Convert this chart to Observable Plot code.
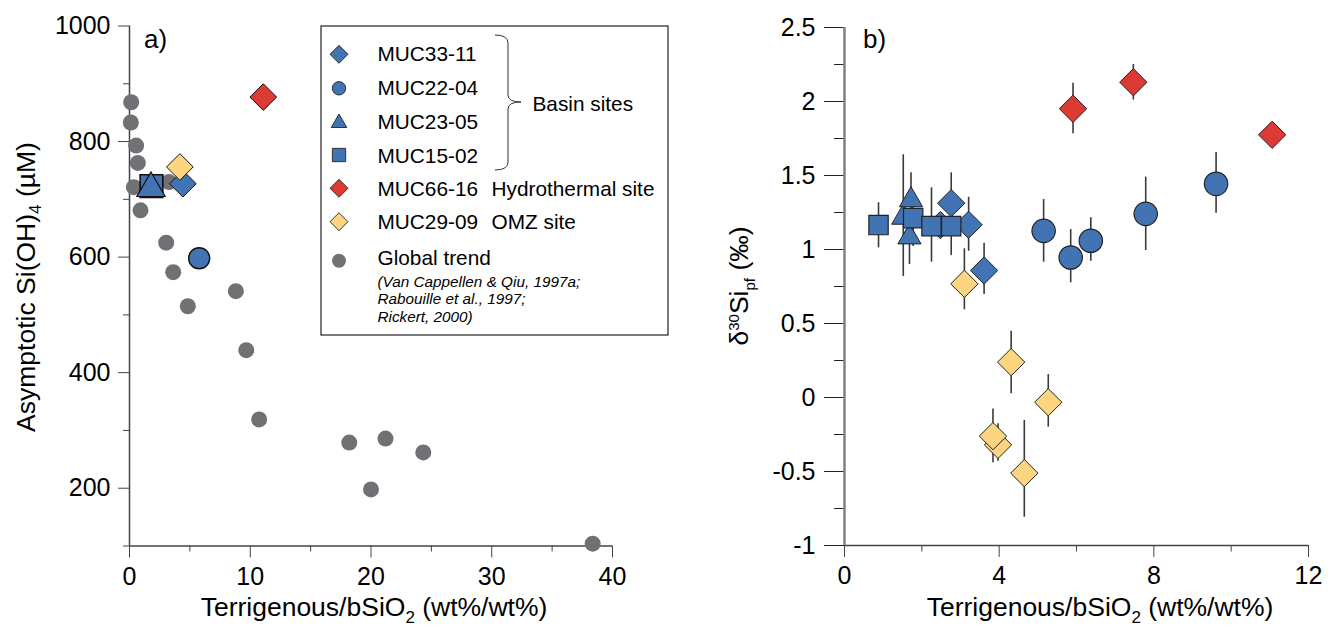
<!DOCTYPE html>
<html>
<head>
<meta charset="utf-8">
<script src="https://cdn.jsdelivr.net/npm/d3@7"></script>
<script src="https://cdn.jsdelivr.net/npm/@observablehq/plot@0.6"></script>
<style>
  body { margin: 0; background: #fff; font-family: "Liberation Sans", Arial, sans-serif; }
  #wrap { position: relative; width: 1340px; height: 630px; overflow: hidden; }
  #pa, #pb { position: absolute; top: 0; }
  #pa { left: 0; }
  #pb { left: 670px; }
  svg { overflow: visible; }
</style>
</head>
<body>
<div id="wrap"><div id="pa"></div><div id="pb"></div></div>
<script>
// ---------------- DATA ----------------
// Panel a: global trend (grey circles)
const globalX = [0.14, 0.11, 0.55, 0.69, 0.36, 0.91, 3.26, 3.04, 3.62, 4.83, 8.81, 9.67, 10.74, 18.2, 21.2, 24.33, 20.0, 38.36];
const globalY = [868, 833, 793, 763, 721, 681, 730, 625, 574, 515, 541, 439, 319, 279, 286, 262, 198, 104];

// Panel a: site values
const siteNames = ["MUC33-11", "MUC22-04", "MUC23-05", "MUC15-02", "MUC66-16", "MUC29-09"];
const siteAX = [4.42, 5.77, 1.78, 1.82, 11.08, 4.17];
const siteAY = [727, 598, 719, 723, 877, 756];

// Panel b: per site  x = Terrigenous/bSiO2, y = d30Si, lo/hi = error bar ends
const b33X  = [2.48, 2.76, 3.21, 3.61];
const b33Y  = [1.165, 1.313, 1.167, 0.858];
const b33Lo = [1.08, 1.10, 0.988, 0.696];
const b33Hi = [1.25, 1.518, 1.353, 1.043];

const b22X  = [5.15, 5.85, 6.37, 7.79, 9.61];
const b22Y  = [1.126, 0.946, 1.059, 1.241, 1.444];
const b22Lo = [0.914, 0.775, 0.921, 0.993, 1.245];
const b22Hi = [1.338, 1.135, 1.214, 1.489, 1.655];

const b23X  = [1.52, 1.72, 1.68];
const b23Y  = [1.216, 1.334, 1.083];
const b23Lo = [0.818, 1.15, 0.899];
const b23Hi = [1.64, 1.518, 1.27];

const b15X  = [0.88, 1.776, 2.25, 2.76];
const b15Y  = [1.165, 1.212, 1.158, 1.158];
const b15Lo = [1.011, 1.02, 0.914, 0.959];
const b15Hi = [1.316, 1.30, 1.417, 1.36];

const b66X  = [5.91, 7.47, 11.06];
const b66Y  = [1.951, 2.13, 1.775];
const b66Lo = [1.782, 2.01, 1.745];
const b66Hi = [2.124, 2.25, 1.805];

const b29X  = [3.10, 4.31, 5.27, 3.97, 3.84, 4.65];
const b29Y  = [0.768, 0.239, -0.032, -0.32, -0.261, -0.511];
const b29Lo = [0.593, 0.025, -0.2, -0.43, -0.441, -0.809];
const b29Hi = [1.005, 0.448, 0.155, -0.178, -0.077, -0.155];

// Tick values
const aXMajor = [0, 10, 20, 30, 40];
const aXMinor = [5, 15, 25, 35];
const aYMajor = [200, 400, 600, 800, 1000];
const aYMinor = [100, 300, 500, 700, 900];
const bXMajor = [0, 4, 8, 12];
const bXMinor = [2, 6, 10];
const bYMajor = [-1, -0.5, 0, 0.5, 1, 1.5, 2, 2.5];
const bYMinor = [-0.75, -0.25, 0.25, 0.75, 1.25, 1.75, 2.25];

// ---------------- STYLE ----------------
const BLUE = "#4274b4", RED = "#dc3b33", YELLOW = "#fdd580", GREY = "#6f7174";
const FONT = "'Liberation Sans', Arial, sans-serif";

const pts = (xs, ys) => xs.map((x, i) => ({x, y: ys[i]}));
const ptsErr = (xs, ys, lo, hi) => xs.map((x, i) => ({x, y: ys[i], lo: lo[i], hi: hi[i]}));
const siteA = siteNames.map((n, i) => ({name: n, x: siteAX[i], y: siteAY[i]}));
const pick = n => siteA.filter(d => d.name === n);

// ---------------- PANEL A ----------------
const plotA = Plot.plot({
  width: 670, height: 630,
  marginLeft: 129, marginRight: 58, marginTop: 25.5, marginBottom: 84.5,
  style: {fontFamily: FONT, background: "transparent", color: "#000"},
  x: {domain: [0, 40]},
  y: {domain: [100, 1000]},
  marks: [
    Plot.ruleX([0], {stroke: "#444", strokeWidth: 1.5}),
    Plot.ruleY([100], {stroke: "#444", strokeWidth: 1.5}),
    Plot.axisX({ticks: aXMajor, tickSize: 12, tickPadding: 9, fontSize: 25, tickFormat: d => String(d), label: null, stroke: "#444"}),
    Plot.axisX({ticks: aXMinor, tickSize: 6, tickFormat: () => "", label: null, stroke: "#444"}),
    Plot.axisY({ticks: aYMajor, tickSize: 11, tickPadding: 8, fontSize: 25, tickFormat: d => String(d), label: null, stroke: "#444"}),
    Plot.axisY({ticks: aYMinor, tickSize: 6, tickFormat: () => "", label: null, stroke: "#444"}),
    Plot.dot(pts(globalX, globalY), {x: "x", y: "y", r: 8, fill: GREY}),
    Plot.dot(pick("MUC15-02"), {x: "x", y: "y", symbol: "square", r: 12.8, fill: BLUE, stroke: "#111", strokeWidth: 1.6}),
    Plot.dot(pick("MUC23-05"), {x: "x", y: "y", symbol: "triangle", r: 10.5, fill: BLUE, stroke: "#111", strokeWidth: 1.2}),
    Plot.dot(pick("MUC33-11"), {x: "x", y: "y", symbol: "diamond2", r: 12, fill: BLUE, stroke: "#111", strokeWidth: 1}),
    Plot.dot(pick("MUC29-09"), {x: "x", y: "y", symbol: "diamond2", r: 12, fill: YELLOW, stroke: "#111", strokeWidth: 1}),
    Plot.dot(pick("MUC22-04"), {x: "x", y: "y", symbol: "circle", r: 10.5, fill: BLUE, stroke: "#111", strokeWidth: 1.4}),
    Plot.dot(pick("MUC66-16"), {x: "x", y: "y", symbol: "diamond2", r: 12, fill: RED, stroke: "#111", strokeWidth: 1})
  ]
});
document.getElementById("pa").appendChild(plotA);

// ---------------- PANEL B ----------------
const errMark = (d) => Plot.ruleX(d, {x: "x", y1: "lo", y2: "hi", stroke: "#3a3a3a", strokeWidth: 1.6});
const d33 = ptsErr(b33X, b33Y, b33Lo, b33Hi);
const d22 = ptsErr(b22X, b22Y, b22Lo, b22Hi);
const d23 = ptsErr(b23X, b23Y, b23Lo, b23Hi);
const d15 = ptsErr(b15X, b15Y, b15Lo, b15Hi);
const d66 = ptsErr(b66X, b66Y, b66Lo, b66Hi);
const d29 = ptsErr(b29X, b29Y, b29Lo, b29Hi);

const plotB = Plot.plot({
  width: 670, height: 630,
  marginLeft: 174, marginRight: 32, marginTop: 27, marginBottom: 85,
  style: {fontFamily: FONT, background: "transparent", color: "#000"},
  x: {domain: [0, 12]},
  y: {domain: [-1, 2.5]},
  marks: [
    Plot.ruleY([-1], {stroke: "#444", strokeWidth: 1.5}),
    Plot.axisX({ticks: bXMajor, tickSize: 12, tickPadding: 9, fontSize: 25, tickFormat: d => String(d), label: null, stroke: "#444"}),
    Plot.axisX({ticks: bXMinor, tickSize: 6.5, tickFormat: () => "", label: null, stroke: "#444"}),
    Plot.axisY({ticks: bYMajor, tickSize: 20, tickPadding: 9, fontSize: 25, tickFormat: d => String(d), label: null, stroke: "#222"}),
    Plot.axisY({ticks: bYMinor, tickSize: 10, tickFormat: () => "", label: null, stroke: "#222"}),
    Plot.ruleX([0], {stroke: "#808080", strokeWidth: 2.5}),
    errMark(d29), errMark(d66), errMark(d22), errMark(d33), errMark(d23), errMark(d15),
    Plot.dot(d29, {x: "x", y: "y", symbol: "diamond2", r: 12.3, fill: YELLOW, stroke: "#222", strokeWidth: 1}),
    Plot.dot(d66, {x: "x", y: "y", symbol: "diamond2", r: 12.3, fill: RED, stroke: "#222", strokeWidth: 1}),
    Plot.dot(d22, {x: "x", y: "y", symbol: "circle", r: 11.7, fill: BLUE, stroke: "#222", strokeWidth: 1.2}),
    Plot.dot(d33, {x: "x", y: "y", symbol: "diamond2", r: 12.3, fill: BLUE, stroke: "#222", strokeWidth: 1}),
    Plot.dot(d23, {x: "x", y: "y", symbol: "triangle", r: 8.6, fill: BLUE, stroke: "#222", strokeWidth: 1}),
    Plot.dot(d15, {x: "x", y: "y", symbol: "square", r: 10.9, fill: BLUE, stroke: "#222", strokeWidth: 1.2})
  ]
});
document.getElementById("pb").appendChild(plotB);

// ---------------- TITLES ----------------
function xTitle(svg, cx, base, main, sub, rest) {
  const t = d3.select(svg).append("text")
    .attr("x", cx).attr("y", base).attr("text-anchor", "middle")
    .attr("font-family", FONT).attr("font-size", 26.5).attr("fill", "#000");
  t.append("tspan").text(main);
  t.append("tspan").attr("font-size", 17).attr("dy", 7).text(sub);
  t.append("tspan").attr("dy", -7).text(rest);
}
xTitle(plotA, 374, 616, "Terrigenous/bSiO", "2", " (wt%/wt%)");
xTitle(plotB, 430, 616, "Terrigenous/bSiO", "2", " (wt%/wt%)");

{
  const t = d3.select(plotA).append("text")
    .attr("transform", "translate(35,287) rotate(-90)").attr("text-anchor", "middle")
    .attr("font-family", FONT).attr("font-size", 26.5).attr("fill", "#000");
  t.append("tspan").text("Asymptotic Si(OH)");
  t.append("tspan").attr("font-size", 17).attr("dy", 6).text("4");
  t.append("tspan").attr("dy", -6).text(" (µM)");
}
{
  const t = d3.select(plotB).append("text")
    .attr("transform", "translate(78,286) rotate(-90)").attr("text-anchor", "middle")
    .attr("font-family", FONT).attr("font-size", 26.5).attr("fill", "#000");
  t.append("tspan").text("δ");
  t.append("tspan").attr("font-size", 15).attr("dy", -9).text("30");
  t.append("tspan").attr("dy", 9).text("Si");
  t.append("tspan").attr("font-size", 15).attr("dy", 7).text("pf");
  t.append("tspan").attr("dy", -7).text(" (‰)");
}
d3.select(plotA).append("text").attr("x", 144).attr("y", 48).attr("font-family", FONT)
  .attr("text-anchor", "start").attr("font-size", 26).text("a)");
d3.select(plotB).append("text").attr("x", 193).attr("y", 48).attr("font-family", FONT)
  .attr("text-anchor", "start").attr("font-size", 26).text("b)");

// ---------------- LEGEND (panel a) ----------------
const legendItems = [
  {label: "MUC33-11", extra: "", type: d3.symbolDiamond2, size: 206, fill: BLUE, cy: 54.3, base: 60.7},
  {label: "MUC22-04", extra: "", type: d3.symbolCircle, size: 141, fill: BLUE, cy: 88.3, base: 95.3},
  {label: "MUC23-05", extra: "", type: d3.symbolTriangle, size: 105, fill: BLUE, cy: 123, base: 129},
  {label: "MUC15-02", extra: "", type: d3.symbolSquare, size: 177, fill: BLUE, cy: 155, base: 162.7},
  {label: "MUC66-16", extra: "Hydrothermal site", type: d3.symbolDiamond2, size: 206, fill: RED, cy: 188.3, base: 196},
  {label: "MUC29-09", extra: "OMZ site", type: d3.symbolDiamond2, size: 206, fill: YELLOW, cy: 221.7, base: 228.5},
  {label: "Global trend", extra: "", type: d3.symbolCircle, size: 154, fill: GREY, cy: 260.7, base: 265, noStroke: true}
];
const citation = ["(Van Cappellen & Qiu, 1997a;", "Rabouille et al., 1997;", "Rickert, 2000)"];
const citationBase = [286.7, 304, 321.7];

const lg = d3.select(plotA).append("g").attr("font-family", FONT).attr("text-anchor", "start").attr("fill", "#000");
lg.append("rect").attr("x", 321).attr("y", 26).attr("width", 347).attr("height", 309)
  .attr("fill", "#fff").attr("stroke", "#222").attr("stroke-width", 1.2);
legendItems.forEach(d => {
  lg.append("path").attr("d", d3.symbol().type(d.type).size(d.size)())
    .attr("transform", `translate(339,${d.cy})`)
    .attr("fill", d.fill).attr("stroke", d.noStroke ? "none" : "#222").attr("stroke-width", 0.9);
  lg.append("text").attr("x", 377.5).attr("y", d.base).attr("font-size", 20.8).attr("text-anchor", "start").text(d.label);
  if (d.extra) lg.append("text").attr("x", 491.5).attr("y", d.base).attr("font-size", 20.8).attr("text-anchor", "start").text(d.extra);
});
citation.forEach((c, i) => {
  lg.append("text").attr("x", 377.5).attr("y", citationBase[i]).attr("font-size", 15.3)
    .attr("font-style", "italic").attr("text-anchor", "start").text(c);
});
lg.append("path")
  .attr("d", "M495,35 Q508,35 508,43 L508,95 Q508,102 521,102 Q508,102 508,109 L508,162 Q508,170 495,170")
  .attr("fill", "none").attr("stroke", "#333").attr("stroke-width", 1);
lg.append("text").attr("x", 532.5).attr("y", 110.7).attr("font-size", 20.8).attr("text-anchor", "start").text("Basin sites");
</script>
</body>
</html>
